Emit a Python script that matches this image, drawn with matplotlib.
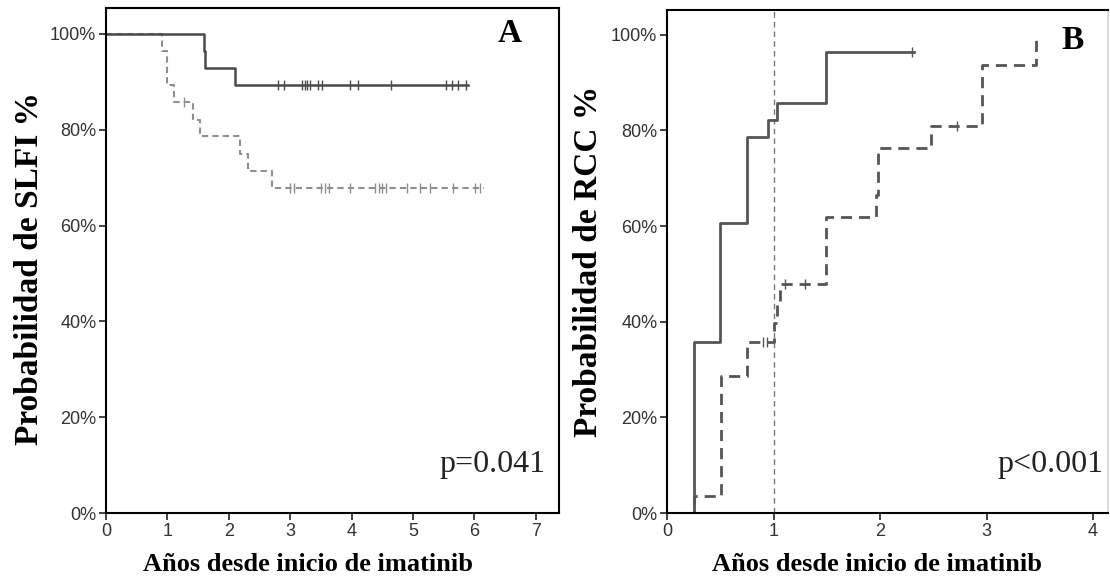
import numpy as np
import matplotlib.pyplot as plt
from matplotlib.ticker import PercentFormatter

# Panel A: SLFI (survival curves)
a_solid_t = [0, 1.59, 1.62, 2.10, 5.90]
a_solid_p = [100, 96.4, 92.9, 89.3, 89.3]
a_solid_cens = [2.80, 2.90, 3.19, 3.24, 3.28, 3.32, 3.45, 3.52, 3.97, 4.11,
                4.65, 5.54, 5.63, 5.74, 5.87]

a_dash_t = [0, 0.91, 1.00, 1.10, 1.42, 1.53, 2.19, 2.31, 2.71, 6.16]
a_dash_p = [100, 96.4, 89.3, 85.7, 82.1, 78.6, 75.0, 71.4, 67.9, 67.9]
a_dash_cens = [1.27, 3.00, 3.06, 3.51, 3.57, 3.63, 3.97, 4.38, 4.44, 4.49,
               4.56, 4.90, 5.11, 5.28, 5.66, 6.01, 6.10]

# Panel B: RCC (cumulative response)
b_solid_t = [0, 0.255, 0.50, 0.75, 0.945, 1.03, 1.49, 2.32]
b_solid_p = [0, 35.7, 60.7, 78.6, 82.1, 85.7, 96.4, 96.4]
b_solid_cens = [2.30]

b_dash_t = [0, 0.255, 0.51, 0.75, 1.00, 1.03, 1.06, 1.49, 1.96, 1.985,
            2.48, 2.96, 3.46]
b_dash_p = [0, 3.6, 28.6, 35.7, 39.7, 43.9, 47.8, 62.0, 66.5, 76.3,
            81.0, 93.8, 100]
b_dash_cens = [0.90, 0.94, 1.11, 1.30, 2.72]

serif = ['Liberation Serif', 'DejaVu Serif']
sans = ['Liberation Sans', 'DejaVu Sans']


def level_at(times, probs, t):
    i = np.searchsorted(times, t, side='right') - 1
    return probs[max(i, 0)]


def km(ax, times, probs, cens, color, lw, dashes=None):
    line, = ax.step(times, probs, where='post', color=color, lw=lw)
    if dashes:
        line.set_dashes(dashes)
    ys = [level_at(times, probs, c) for c in cens]
    ax.plot(cens, ys, ls='none', marker='|', ms=7, mew=1.0, color=color)


def style(ax, xmax, ymax, xticks, ylabel, ylpos, xlx, letter, lpos, ptext, px):
    ax.set_xlim(0, xmax)
    ax.set_ylim(0, ymax)
    ax.set_xticks(xticks)
    ax.set_yticks([0, 20, 40, 60, 80, 100])
    ax.yaxis.set_major_formatter(PercentFormatter(decimals=0))
    ax.tick_params(direction='out', length=5, width=1.2, colors='#222222',
                   labelsize=13, pad=2)
    for lab in ax.get_xticklabels() + ax.get_yticklabels():
        lab.set_family(sans)
        lab.set_color('#333333')
    for s in ax.spines.values():
        s.set_linewidth(1.5)
    ax.set_ylabel(ylabel, family=serif, fontsize=24, fontweight='bold')
    ax.yaxis.set_label_coords(*ylpos)
    ax.set_xlabel('Años desde inicio de imatinib', family=serif,
                  fontsize=19, fontweight='bold')
    ax.xaxis.set_label_coords(xlx, -0.079)
    ax.text(lpos[0], lpos[1], letter, transform=ax.transAxes, family=serif,
            fontsize=24, fontweight='bold', ha='center', va='center')
    ax.text(px, 0.097, ptext, transform=ax.transAxes, family=serif,
            fontsize=23, ha='right', va='center', color='#222222')


fig = plt.figure(figsize=(11.1, 5.81), dpi=100)
axA = fig.add_axes([106 / 1110, 68 / 581, 453 / 1110, 505 / 581])
axB = fig.add_axes([667 / 1110, 68 / 581, 441 / 1110, 503 / 581])

km(axA, a_dash_t, a_dash_p, a_dash_cens, '#8f8f8f', 1.5, (3, 2))
km(axA, a_solid_t, a_solid_p, a_solid_cens, '#4a4a4a', 1.8)
style(axA, 7.38, 105.4, range(8), 'Probabilidad de SLFI %', (-0.135, 0.485),
      0.446, 'A', (0.892, 0.95), 'p=0.041', 0.971)

axB.axvline(1.0, color='#777777', lw=1.0, dashes=(4, 3))
km(axB, b_dash_t, b_dash_p, b_dash_cens, '#555555', 2.0, (4, 2.5))
km(axB, b_solid_t, b_solid_p, b_solid_cens, '#555555', 2.0)
style(axB, 4.14, 105.2, range(5), 'Probabilidad de RCC %', (-0.143, 0.5),
      0.476, 'B', (0.92, 0.94), 'p<0.001', 0.989)
axB.spines['right'].set_color('#dddddd')

fig.savefig('out.png', dpi=100)
